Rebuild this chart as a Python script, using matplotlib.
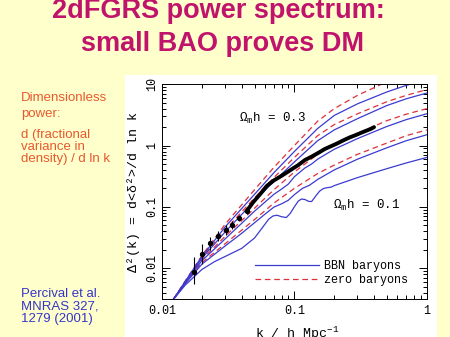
import numpy as np
import matplotlib.pyplot as plt
from matplotlib.patches import Rectangle
from matplotlib.ticker import LogLocator, FuncFormatter, NullFormatter

plt.rcParams['mathtext.fontset'] = 'custom'
plt.rcParams['mathtext.rm'] = 'Liberation Mono'
plt.rcParams['mathtext.it'] = 'Liberation Mono'

# model curves (k in h/Mpc, Delta^2)
k_grid = [0.0122, 0.015, 0.02, 0.03, 0.05, 0.07, 0.1, 0.15, 0.2, 0.3, 0.5, 0.7, 1.0]

bbn_1 = [0.0031, 0.0061, 0.0155, 0.047, 0.16, 0.36, 0.8, 1.9, 3.1, 4.8, 7.5, 9.6, 12.0]
bbn_2 = [0.0031, 0.006, 0.0145, 0.039, 0.125, 0.26, 0.54, 1.2, 1.8, 2.75, 4.5, 5.8, 7.2]

k_bbn_3 = [0.0122, 0.015, 0.02, 0.03, 0.05, 0.07, 0.08, 0.09, 0.1, 0.12, 0.135, 0.15,
           0.2, 0.3, 0.5, 0.7, 1.0]
bbn_3 = [0.0031, 0.0058, 0.0132, 0.03, 0.085, 0.16, 0.195, 0.235, 0.31, 0.43, 0.5, 0.6,
         0.87, 1.3, 2.05, 2.65, 3.3]

k_bbn_4 = [0.0122, 0.015, 0.02, 0.03, 0.04, 0.05, 0.06, 0.07, 0.08, 0.09, 0.1, 0.115,
           0.13, 0.15, 0.2, 0.3, 0.5, 0.7, 1.0]
bbn_4 = [0.0031, 0.0056, 0.0116, 0.023, 0.037, 0.055, 0.076, 0.099, 0.112, 0.128, 0.158,
         0.2, 0.225, 0.28, 0.4, 0.6, 0.92, 1.2, 1.5]

k_bbn_5 = [0.0122, 0.015, 0.02, 0.025, 0.03, 0.04, 0.05, 0.057, 0.064, 0.069, 0.074,
           0.08, 0.087, 0.093, 0.1, 0.107, 0.113, 0.12, 0.128, 0.135, 0.145, 0.155, 0.165,
           0.175, 0.19, 0.2, 0.3, 0.5, 0.7, 1.0]
bbn_5 = [0.0031, 0.0053, 0.0095, 0.0128, 0.0155, 0.021, 0.031, 0.045, 0.063, 0.071,
         0.073, 0.069, 0.067, 0.078, 0.1, 0.124, 0.134, 0.132, 0.123, 0.122, 0.15, 0.18,
         0.198, 0.205, 0.21, 0.222, 0.3, 0.42, 0.52, 0.64]

zero_0 = [0.0031, 0.0062, 0.016, 0.052, 0.19, 0.44, 1.0, 2.5, 4.0, 6.6, 11.0]
zero_1 = [0.0031, 0.006, 0.015, 0.042, 0.14, 0.3, 0.64, 1.45, 2.2, 3.3, 5.2, 6.6, 8.2]
zero_2 = [0.0031, 0.0059, 0.0138, 0.033, 0.095, 0.19, 0.37, 0.72, 1.05, 1.58, 2.55, 3.25, 4.0]
zero_3 = [0.0031, 0.0057, 0.0123, 0.025, 0.062, 0.115, 0.2, 0.35, 0.48, 0.72, 1.1, 1.45, 1.8]

# 2dFGRS measurement
data_k = [0.0176, 0.0201, 0.023, 0.0266, 0.0305, 0.034, 0.0385, 0.0435, 0.049, 0.055,
          0.062, 0.07, 0.078, 0.087, 0.097, 0.107, 0.12, 0.135, 0.15, 0.17, 0.19, 0.21,
          0.235, 0.26, 0.29, 0.32, 0.35, 0.38, 0.40]
data_v = [0.0087, 0.0173, 0.026, 0.034, 0.042, 0.05, 0.066, 0.085, 0.12, 0.16, 0.22,
          0.27, 0.31, 0.36, 0.42, 0.48, 0.58, 0.66, 0.75, 0.88, 0.98, 1.08, 1.22, 1.35,
          1.48, 1.62, 1.75, 1.88, 2.0]
data_lo = [0.0055, 0.0119, 0.0196, 0.028, 0.035, 0.043, 0.058, 0.076]
data_hi = [0.015, 0.025, 0.032, 0.041, 0.05, 0.058, 0.075, 0.095]

BLUE = '#3b3bd0'
RED = '#e0303a'

fig = plt.figure(figsize=(4.5, 3.37), dpi=100)
fig.patch.set_facecolor('#FFFFCC')
fig.add_artist(Rectangle((125 / 450, 0), 312 / 450, 1 - 75 / 337,
                         transform=fig.transFigure, facecolor='white',
                         edgecolor='none', zorder=0))

ax = fig.add_axes([162 / 450, 1 - 299.3 / 337, 264.7 / 450, 215 / 337])
ax.set_xscale('log')
ax.set_yscale('log')

dash = (0, (4.5, 3))
ax.plot(k_grid[:len(zero_0)], zero_0, color=RED, lw=0.9, ls=dash)
for z in (zero_1, zero_2, zero_3):
    ax.plot(k_grid, z, color=RED, lw=0.9, ls=dash)
ax.plot(k_grid, bbn_1, color=BLUE, lw=0.9, label='BBN baryons')
ax.plot(k_grid, bbn_2, color=BLUE, lw=0.9)
ax.plot(k_bbn_3, bbn_3, color=BLUE, lw=0.9)
ax.plot(k_bbn_4, bbn_4, color=BLUE, lw=0.9)
ax.plot(k_bbn_5, bbn_5, color=BLUE, lw=0.9)
ax.plot([], [], color=RED, lw=0.9, ls=dash, label='zero baryons')

n_err = len(data_lo)
yerr = [np.array(data_v[:n_err]) - np.array(data_lo),
        np.array(data_hi) - np.array(data_v[:n_err])]
ax.errorbar(data_k[:n_err], data_v[:n_err], yerr=yerr, fmt='o', color='k', ms=2.8,
            elinewidth=0.8, capsize=0, zorder=5)
ax.plot(data_k[n_err - 1:], data_v[n_err - 1:], color='k', lw=2.8, zorder=5,
        solid_capstyle='round')

ax.set_xlim(0.01, 1)
ax.set_ylim(0.0031, 10)

ax.xaxis.set_major_locator(LogLocator(base=10, numticks=10))
ax.xaxis.set_minor_locator(LogLocator(base=10, subs=np.arange(2, 10), numticks=10))
ax.yaxis.set_major_locator(LogLocator(base=10, numticks=10))
ax.yaxis.set_minor_locator(LogLocator(base=10, subs=np.arange(2, 10), numticks=10))
fmt = FuncFormatter(lambda v, _: f'{v:g}')
ax.xaxis.set_major_formatter(fmt)
ax.yaxis.set_major_formatter(fmt)
ax.xaxis.set_minor_formatter(NullFormatter())
ax.yaxis.set_minor_formatter(NullFormatter())
ax.tick_params(which='both', direction='in', top=True, right=True, width=0.7)
ax.tick_params(which='major', length=6)
ax.tick_params(which='minor', length=3)
ax.tick_params(axis='x', pad=4)
ax.tick_params(axis='y', pad=3, labelrotation=90)
for lab in ax.get_xticklabels() + ax.get_yticklabels():
    lab.set_fontfamily('Liberation Mono')
    lab.set_fontsize(8.5)
for lab in ax.get_yticklabels():
    lab.set_va('center')
for s in ax.spines.values():
    s.set_linewidth(0.7)

ax.set_xlabel(r'k / h Mpc$^{-1}$', fontfamily='Liberation Mono', fontsize=9.5)
ax.xaxis.set_label_coords(0.51, -0.12)
ax.set_ylabel('Δ²(k) = d<δ²>/d ln k', fontfamily='Liberation Mono', fontsize=9.5)
ax.yaxis.set_label_coords(-0.085, 0.5)

ax.text(0.0385, 2.75, r'Ω$_{\rm m}$h = 0.3', fontfamily='Liberation Mono', fontsize=9,
        va='center')
ax.text(0.196, 0.106, r'Ω$_{\rm m}$h = 0.1', fontfamily='Liberation Mono', fontsize=9,
        va='center')

ax.legend(loc='lower right', bbox_to_anchor=(0.93, 0.06), frameon=False,
          prop={'family': 'Liberation Mono', 'size': 8.5}, handlelength=5.5,
          handletextpad=0.4, labelspacing=0.2, borderpad=0, borderaxespad=0)

# slide text
TITLE = '#C0146C'
fig.text(0.485, 1 - 18 / 337, '2dFGRS power spectrum:', ha='center', va='baseline',
         fontfamily='Liberation Sans', fontweight='bold', fontsize=19.5, color=TITLE)
fig.text(0.495, 1 - 50.7 / 337, 'small BAO proves DM', ha='center', va='baseline',
         fontfamily='Liberation Sans', fontweight='bold', fontsize=19.5, color=TITLE)

ORANGE = '#E8582E'
left_lines = [('Dimensionless', 101), ('power:', 117), ('d (fractional', 138),
              ('variance in', 150), ('density) / d ln k', 162)]
for txt, yb in left_lines:
    fig.text(21 / 450, 1 - yb / 337, txt, va='baseline', fontfamily='Liberation Sans',
             fontsize=9.5, color=ORANGE)

BLUE_TXT = '#3535C8'
ref_lines = [('Percival et al.', 297), ('MNRAS 327,', 309.5), ('1279 (2001)', 322)]
for txt, yb in ref_lines:
    fig.text(21 / 450, 1 - yb / 337, txt, va='baseline', fontfamily='Liberation Sans',
             fontsize=9.5, color=BLUE_TXT)

fig.savefig('out.png', dpi=100, facecolor=fig.get_facecolor())
